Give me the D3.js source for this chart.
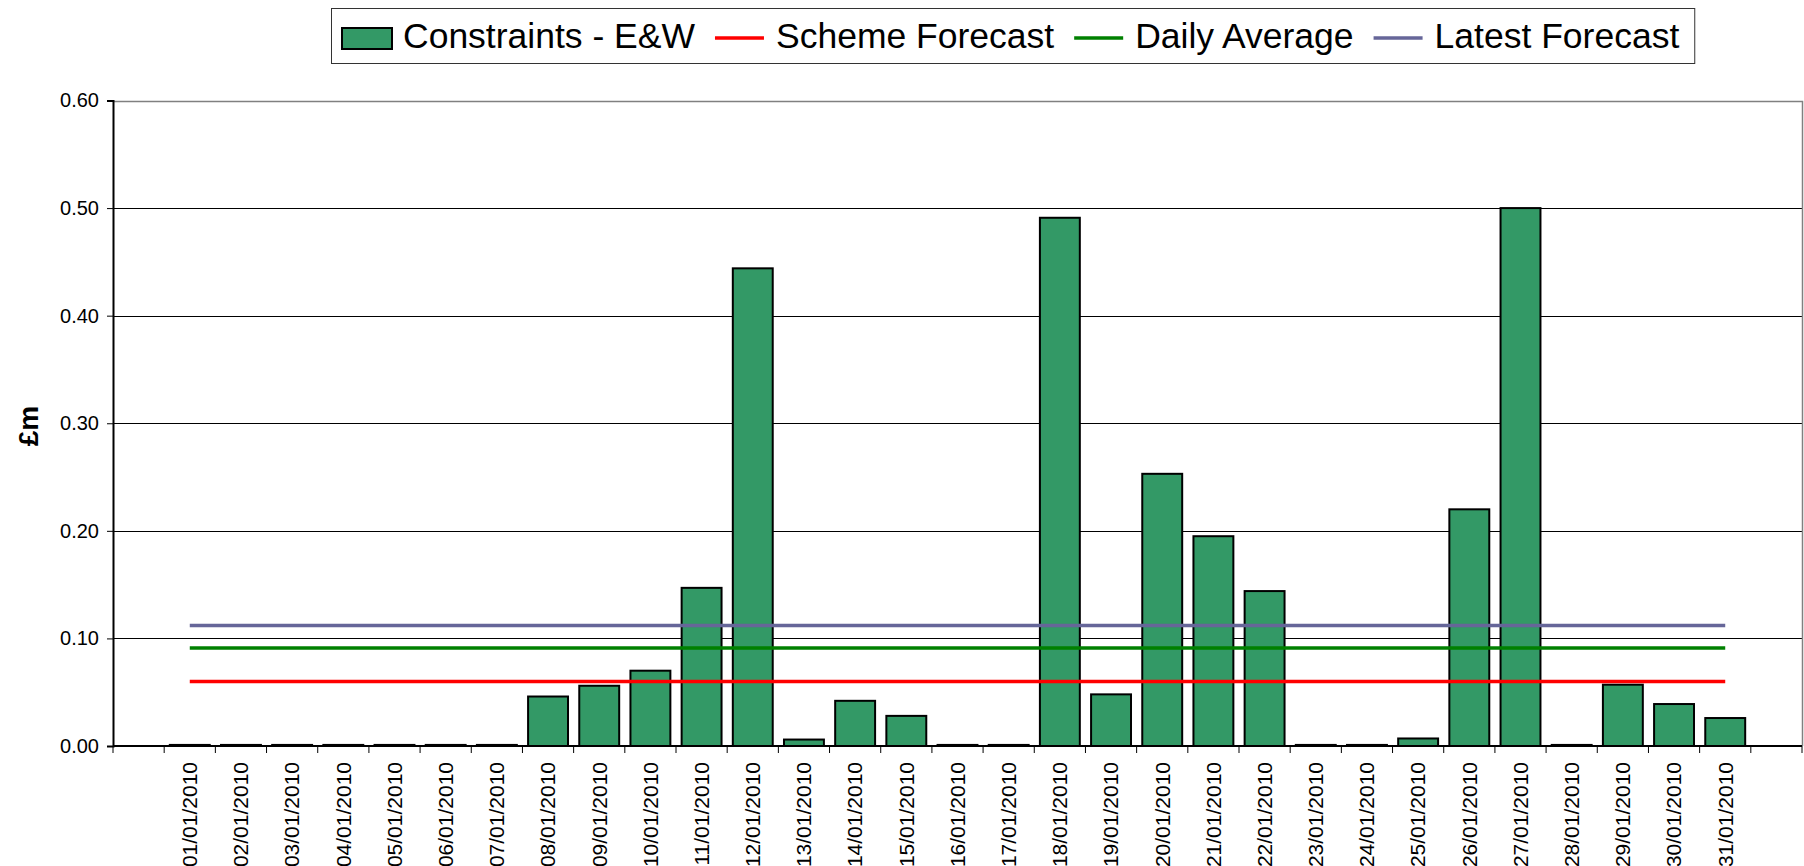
<!DOCTYPE html>
<html lang="en">
<meta charset="utf-8" />
<style>
    body { margin: 0; background: #fff; }
    svg text { font-family: "Liberation Sans", Arial, sans-serif; }
</style>
<body>
<svg width="1804" height="866"></svg>
<script src="https://d3js.org/d3.v7.min.js"></script>
<script>
    // values (£m)
    var dates = ["01/01/2010", "02/01/2010", "03/01/2010", "04/01/2010", "05/01/2010", "06/01/2010",
        "07/01/2010", "08/01/2010", "09/01/2010", "10/01/2010", "11/01/2010", "12/01/2010",
        "13/01/2010", "14/01/2010", "15/01/2010", "16/01/2010", "17/01/2010", "18/01/2010",
        "19/01/2010", "20/01/2010", "21/01/2010", "22/01/2010", "23/01/2010", "24/01/2010",
        "25/01/2010", "26/01/2010", "27/01/2010", "28/01/2010", "29/01/2010", "30/01/2010", "31/01/2010"]

    var constraints = [0.001, 0.001, 0.001, 0.001, 0.001, 0.001, 0.001, 0.046, 0.056, 0.070, 0.147, 0.444,
        0.006, 0.042, 0.028, 0.001, 0.001, 0.491, 0.048, 0.253, 0.195, 0.144, 0.001, 0.001,
        0.007, 0.220, 0.500, 0.001, 0.057, 0.039, 0.026]

    var schemeForecast = 0.060
    var dailyAverage = 0.091
    var latestForecast = 0.112

    var yTicks = [0, 0.1, 0.2, 0.3, 0.4, 0.5, 0.6]

    var legendItems = [
        { name: "Constraints - E&W", type: "bar", color: "#339966" },
        { name: "Scheme Forecast", type: "line", color: "#ff0000" },
        { name: "Daily Average", type: "line", color: "#008000" },
        { name: "Latest Forecast", type: "line", color: "#666699" }
    ]

    drawChart()

    function drawChart() {
        var svg = d3.select("svg")

        var left = 113, right = 1802, plotTop = 100.5, bottom = 746
        var step = (right - left) / (dates.length + 2)

        var x = d3.scaleBand()
            .domain(dates)
            .range([left + step, right - step])

        var y = d3.scaleLinear()
            .domain([0, 0.6])
            .range([bottom, plotTop])

        // gridlines
        svg.selectAll("line.grid")
            .data(yTicks.filter(d => d > 0 && d < 0.6))
            .enter()
            .append("line")
            .attr("class", "grid")
            .attr("x1", left)
            .attr("x2", right)
            .attr("y1", d => Math.round(y(d)) + 0.5)
            .attr("y2", d => Math.round(y(d)) + 0.5)
            .attr("stroke", "#000")
            .attr("stroke-width", 1)

        // plot border top & right
        svg.append("path")
            .attr("d", `M${left},${Math.round(plotTop) + 0.5}H${right + 0.5}V${bottom}`)
            .attr("fill", "none")
            .attr("stroke", "#808080")
            .attr("stroke-width", 1.5)

        // bars
        var bw = x.bandwidth() * 0.78
        svg.selectAll("rect.bar")
            .data(constraints)
            .enter()
            .append("rect")
            .attr("class", "bar")
            .attr("x", (d, i) => x(dates[i]) + (x.bandwidth() - bw) / 2)
            .attr("width", bw)
            .attr("y", d => y(d))
            .attr("height", d => bottom - y(d))
            .attr("fill", "#339966")
            .attr("stroke", "#000")
            .attr("stroke-width", 2)

        // horizontal series
        var lineSeries = [
            { v: schemeForecast, color: "#ff0000" },
            { v: dailyAverage, color: "#008000" },
            { v: latestForecast, color: "#666699" }
        ]
        lineSeries.forEach(function(s) {
            var line = d3.line()
                .x(d => x(d) + x.bandwidth() / 2)
                .y(() => y(s.v))
            svg.append("path")
                .attr("d", line(dates))
                .attr("fill", "none")
                .attr("stroke", s.color)
                .attr("stroke-width", 3.5)
        })

        // y axis
        var yAxis = d3.axisLeft(y)
            .tickValues(yTicks)
            .tickFormat(d3.format(".2f"))
            .tickSize(6)
            .tickPadding(8)
        var gy = svg.append("g")
            .attr("transform", `translate(${left},0)`)
            .call(yAxis)
        gy.select(".domain").attr("stroke", "#000").attr("stroke-width", 2)
        gy.selectAll("text").attr("font-size", 20).attr("fill", "#000")
            .attr("font-family", "'Liberation Sans', Arial, sans-serif")

        // x axis line
        svg.append("line")
            .attr("x1", left)
            .attr("x2", right)
            .attr("y1", bottom)
            .attr("y2", bottom)
            .attr("stroke", "#000")
            .attr("stroke-width", 2)

        // category boundary ticks
        svg.selectAll("line.xtick")
            .data(d3.range(dates.length + 3))
            .enter()
            .append("line")
            .attr("class", "xtick")
            .attr("x1", i => left + i * step)
            .attr("x2", i => left + i * step)
            .attr("y1", bottom)
            .attr("y2", bottom + 7)
            .attr("stroke", "#000")
            .attr("stroke-width", 1)

        // x labels
        svg.selectAll("text.xlab")
            .data(dates)
            .enter()
            .append("text")
            .attr("class", "xlab")
            .text(d => d)
            .attr("font-size", 21)
            .attr("text-anchor", "end")
            .attr("dy", "0.35em")
            .attr("transform", d => `translate(${x(d) + x.bandwidth() / 2},${bottom + 16}) rotate(-90)`)

        // y title
        svg.append("text")
            .text("£m")
            .attr("font-size", 28)
            .attr("font-weight", "bold")
            .attr("text-anchor", "middle")
            .attr("transform", "translate(38,426) rotate(-90)")

        // legend
        var lg = svg.append("g")
        var lx = 342
        legendItems.forEach(function(d, i) {
            if (d.type == "bar") {
                lg.append("rect")
                    .attr("x", lx).attr("y", 28).attr("width", 50).attr("height", 21)
                    .attr("fill", d.color).attr("stroke", "#000").attr("stroke-width", 2)
            } else {
                lg.append("line")
                    .attr("x1", lx).attr("x2", lx + 49).attr("y1", 38).attr("y2", 38)
                    .attr("stroke", d.color).attr("stroke-width", 3.5)
            }
            lx += 61
            var t = lg.append("text")
                .text(d.name)
                .attr("x", lx)
                .attr("y", 48)
                .attr("font-size", 35.5)
            lx += t.node().getComputedTextLength() + (i < legendItems.length - 1 ? 20 : 15)
        })
        lg.insert("rect", ":first-child")
            .attr("x", 331.5).attr("y", 8.5)
            .attr("width", lx - 331).attr("height", 55)
            .attr("fill", "#fff").attr("stroke", "#333").attr("stroke-width", 1)
    }
</script>
</body>
</html>
